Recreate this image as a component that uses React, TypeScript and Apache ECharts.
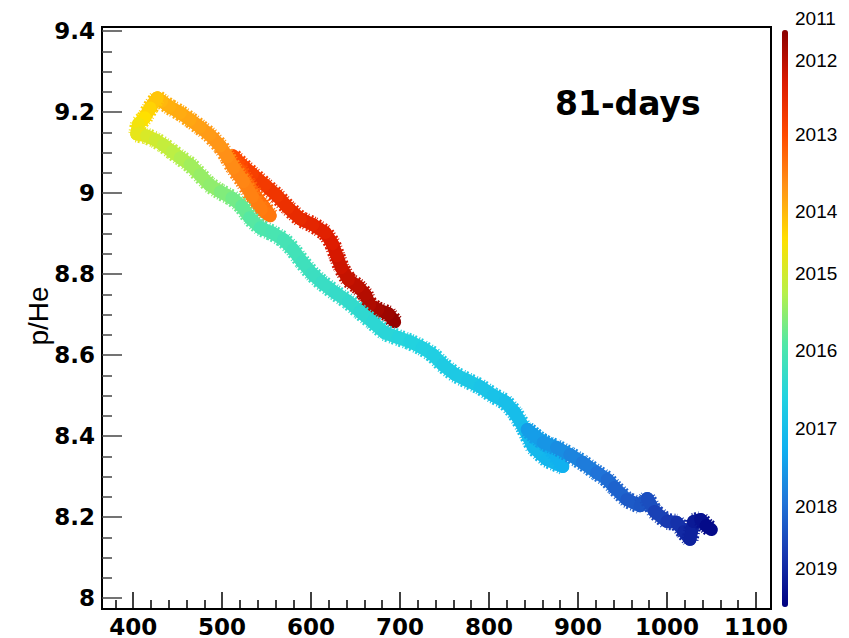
import React, { useEffect, useRef } from "react";
import * as echarts from "echarts";

// Neutron-monitor count rate (x), p/He ratio (y), time in decimal years (colour)
const nmCounts = [
  694, 687, 675, 666, 661, 653, 642, 634, 629, 624, 616, 602, 588, 574, 562, 548, 534, 522, 512,
  520, 529, 538, 547, 554, 544, 534, 524, 513, 506,
  498, 486, 475, 464, 453, 441, 432, 427,
  419, 413, 406, 404, 415,
  425, 434, 444, 453, 464, 475, 486, 498, 511, 522, 531, 543, 556, 569, 580, 590, 601, 612, 627,
  642, 655, 669, 683, 698, 711, 725, 737, 748, 762, 776, 790, 805, 818, 829, 839, 850, 865, 883,
  869, 852, 843,
  861, 876, 891, 905, 921, 933, 941, 955, 970, 978, 986, 1000, 1011, 1019, 1026, 1030, 1038, 1044, 1050,
];
const pHeRatio = [
  8.682, 8.702, 8.712, 8.724, 8.749, 8.769, 8.786, 8.816, 8.845, 8.875, 8.902, 8.922, 8.936, 8.964, 8.993, 9.02, 9.047, 9.07, 9.092,
  9.057, 9.023, 8.991, 8.966, 8.944, 8.959, 8.991, 9.028, 9.062, 9.089,
  9.116, 9.144, 9.163, 9.181, 9.198, 9.213, 9.227, 9.235,
  9.21, 9.186, 9.171, 9.146, 9.141,
  9.131, 9.119, 9.102, 9.087, 9.07, 9.045, 9.02, 9.003, 8.988, 8.968, 8.939, 8.914, 8.902, 8.885, 8.86, 8.83, 8.801, 8.779, 8.754,
  8.732, 8.707, 8.682, 8.655, 8.643, 8.633, 8.618, 8.601, 8.576, 8.552, 8.537, 8.522, 8.5, 8.485, 8.458, 8.421, 8.372, 8.342, 8.325,
  8.374, 8.399, 8.416,
  8.384, 8.372, 8.354, 8.335, 8.31, 8.293, 8.273, 8.243, 8.228, 8.246, 8.214, 8.189, 8.187, 8.164, 8.145, 8.189, 8.194, 8.179, 8.169,
];
const timeYear = [
  2011.65, 2011.72, 2011.8, 2011.88, 2011.95, 2012.0, 2012.08, 2012.15, 2012.22, 2012.3, 2012.38, 2012.45, 2012.52, 2012.6, 2012.68, 2012.75, 2012.82, 2012.9, 2013.0,
  2013.1, 2013.2, 2013.3, 2013.38, 2013.45, 2013.5, 2013.55, 2013.6, 2013.65, 2013.7,
  2013.75, 2013.8, 2013.85, 2013.9, 2013.95, 2014.0, 2014.05, 2014.12,
  2014.25, 2014.38, 2014.5, 2014.62, 2014.75,
  2014.9, 2015.0, 2015.1, 2015.18, 2015.28, 2015.38, 2015.45, 2015.5, 2015.6, 2015.7, 2015.8, 2015.9, 2016.0, 2016.05, 2016.1, 2016.15, 2016.2, 2016.25, 2016.3,
  2016.35, 2016.4, 2016.45, 2016.5, 2016.55, 2016.6, 2016.65, 2016.7, 2016.75, 2016.8, 2016.85, 2016.9, 2016.95, 2017.0, 2017.05, 2017.1, 2017.15, 2017.2, 2017.25,
  2017.35, 2017.45, 2017.5,
  2017.6, 2017.7, 2017.8, 2017.9, 2018.0, 2018.1, 2018.2, 2018.3, 2018.4, 2018.45, 2018.55, 2018.7, 2018.8, 2018.9, 2019.0, 2019.1, 2019.2, 2019.3, 2019.4,
];

const xTickValues = [400, 500, 600, 700, 800, 900, 1000, 1100];
const xMinorValues = [
  380, 420, 440, 460, 480, 520, 540, 560, 580, 620, 640, 660, 680, 720, 740, 760, 780,
  820, 840, 860, 880, 920, 940, 960, 980, 1020, 1040, 1060, 1080,
];
const yTickValues = [8, 8.2, 8.4, 8.6, 8.8, 9, 9.2, 9.4];
const yMinorValues = [
  8.05, 8.1, 8.15, 8.25, 8.3, 8.35, 8.45, 8.5, 8.55, 8.65, 8.7, 8.75,
  8.85, 8.9, 8.95, 9.05, 9.1, 9.15, 9.25, 9.3, 9.35,
];
const colorbarYears = ["2011", "2012", "2013", "2014", "2015", "2016", "2017", "2018", "2019"];
const jetColors = [
  "#8a0000", "#dc1a00", "#ff4a00", "#ff9418", "#ffe000", "#b8f048",
  "#50e8a8", "#22d2e0", "#10b0f0", "#2074d8", "#1838b0", "#000080",
];
const timeMin = 2011.63;
const timeMax = 2019.53;

export default function App() {
  const ref = useRef<HTMLDivElement>(null);
  useEffect(() => {
    document.body.style.margin = "0";
    const chart = echarts.init(ref.current as HTMLDivElement, null, { renderer: "svg" });
    const data = nmCounts.map((x, i) => [x, pHeRatio[i], timeYear[i]]);
    const cbLabelY = [18, 60, 134, 211, 273, 350, 428, 506, 568];
    const axisFont = { fontFamily: "DejaVu Sans", fontWeight: "bold" as const, fontSize: 23, color: "#000" };
    const fmt = (v: number) => String(v);
    const option: any = {
      animation: false,
      backgroundColor: "#fff",
      grid: { left: 102, top: 27, width: 669, height: 582, show: true, borderColor: "#000", borderWidth: 2, backgroundColor: "transparent" },
      xAxis: [
        {
          type: "value", min: 365, max: 1117, position: "bottom",
          axisLine: { show: false }, splitLine: { show: false },
          axisTick: { show: true, inside: true, length: 17, customValues: xTickValues, lineStyle: { color: "#000", width: 1.5 } },
          axisLabel: { customValues: xTickValues, margin: 6, formatter: fmt, ...axisFont },
        },
        {
          type: "value", min: 365, max: 1117, position: "bottom",
          axisLine: { show: false }, splitLine: { show: false }, axisLabel: { show: false },
          axisTick: { show: true, inside: true, length: 9, customValues: xMinorValues, lineStyle: { color: "#000", width: 1.5 } },
        },
      ],
      yAxis: [
        {
          type: "value", min: 7.973, max: 9.41, position: "left",
          axisLine: { show: false }, splitLine: { show: false },
          axisTick: { show: true, inside: true, length: 20, customValues: yTickValues, lineStyle: { color: "#444", width: 1.5 } },
          axisLabel: { customValues: yTickValues, margin: 7, formatter: fmt, ...axisFont },
        },
        {
          type: "value", min: 7.973, max: 9.41, position: "left",
          axisLine: { show: false }, splitLine: { show: false }, axisLabel: { show: false },
          axisTick: { show: true, inside: true, length: 10, customValues: yMinorValues, lineStyle: { color: "#444", width: 1.5 } },
        },
      ],
      visualMap: {
        type: "continuous",
        dimension: 2,
        seriesIndex: 0,
        min: timeMin,
        max: timeMax,
        inverse: true,
        orient: "vertical",
        left: 782,
        top: 30,
        padding: 0,
        itemWidth: 6,
        itemHeight: 577,
        calculable: false,
        hoverLink: false,
        inRange: { color: jetColors },
      },
      series: [
        {
          type: "custom",
          xAxisIndex: 0,
          yAxisIndex: 0,
          data,
          encode: { x: 0, y: 1 },
          renderItem: (params: any, api: any) => {
            const i = params.dataIndex;
            const p = api.coord([api.value(0), api.value(1)]);
            const j = i > 0 ? i - 1 : 0;
            const q = api.coord([nmCounts[j], pHeRatio[j]]);
            const color = api.visual("color");
            const shape = { x1: q[0], y1: q[1], x2: p[0], y2: p[1] };
            return {
              type: "group",
              children: [
                { type: "line", shape, style: { stroke: color, lineWidth: 17, lineCap: "butt", lineDash: [1, 1.5, 2, 2.5], fill: null } },
                { type: "line", shape, style: { stroke: color, lineWidth: 13, lineCap: "round", fill: null } },
              ],
            };
          },
        },
      ],
      graphic: [
        {
          type: "text", x: 555, y: 103,
          style: { text: "81-days", fontFamily: "DejaVu Sans", fontWeight: "bold", fontSize: 33, fill: "#000", textAlign: "left", textVerticalAlign: "middle" },
        },
        {
          type: "text", x: 38, y: 316, rotation: Math.PI / 2,
          style: { text: "p/He", fontFamily: "Liberation Sans", fontSize: 28, fill: "#000", textAlign: "center", textVerticalAlign: "middle" },
        },
        ...colorbarYears.map((yr, k) => ({
          type: "text", x: 795, y: cbLabelY[k],
          style: { text: yr, fontFamily: "Liberation Sans", fontSize: 19, fill: "#000", textAlign: "left", textVerticalAlign: "middle" },
        })),
      ],
    };
    chart.setOption(option);
    return () => chart.dispose();
  }, []);
  return <div ref={ref} style={{ width: 849, height: 638 }} />;
}
